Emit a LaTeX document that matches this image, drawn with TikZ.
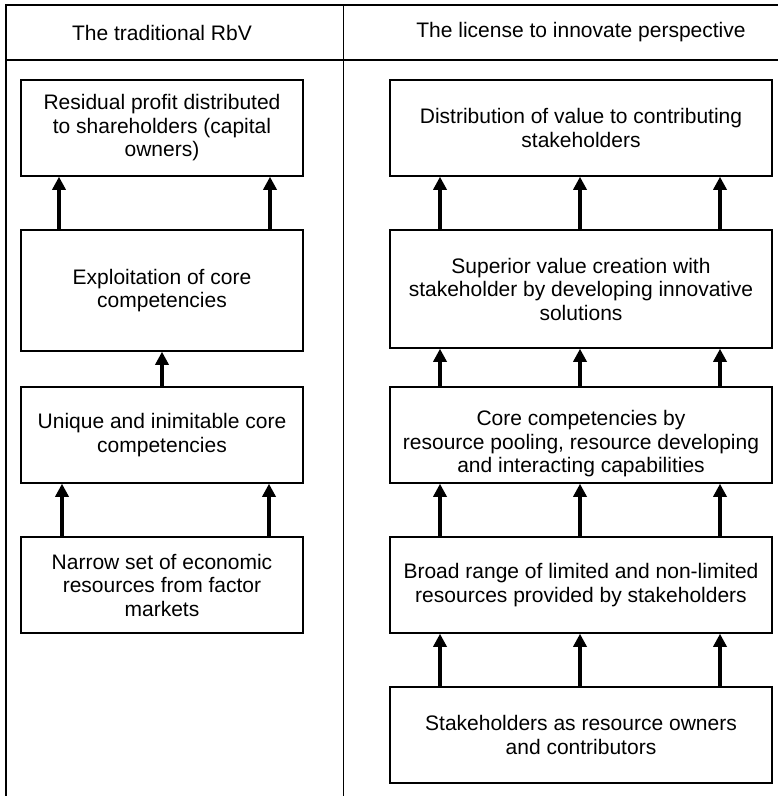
\documentclass[tikz,border=0pt]{standalone}
\usepackage{fontspec}
\setmainfont{Liberation Sans}
\usetikzlibrary{arrows.meta}
\begin{document}
\begin{tikzpicture}[x=1pt,y=-1pt,
  txt/.style={font=\fontsize{21}{23.5}\selectfont, align=center, inner sep=0pt},
  box/.style={txt, draw, line width=1.5pt, rectangle, minimum height=96pt},
  lbox/.style={box, minimum width=282pt},
  rbox/.style={box, minimum width=382pt},
  frame/.style={line width=1.5pt},
  arr/.style={line width=3.2pt, -{Triangle[width=13pt,length=13pt]}}]
\useasboundingbox (0,0) rectangle (778,796);

% table frame
\draw[frame] (6,796) -- (6,5) -- (778,5);
\draw[frame] (6,60) -- (778,60);
\draw[frame] (343.5,5) -- (343.5,796);

% column headings
\node[txt] (hl) at (162,32.5) {The traditional RbV};
\node[txt] (hr) at (581,32.5) {The license to innovate perspective};

% traditional resource-based view
\node[lbox] (L1) at (162,128) {Residual profit distributed\\to shareholders (capital\\owners)};
\node[lbox, minimum height=121pt] (L2) at (162,290.5) {Exploitation of core\\competencies};
\node[lbox] (L3) at (162,435) {Unique and inimitable core\\competencies};
\node[lbox] (L4) at (162,585) {Narrow set of economic\\resources from factor\\markets};

% license to innovate
\node[rbox] (R1) at (581,128) {Distribution of value to contributing\\stakeholders};
\node[rbox, minimum height=118pt] (R2) at (581,289) {Superior value creation with\\stakeholder by developing innovative\\solutions};
\node[rbox] (R3) at (581,435) {};
\node[txt] (R3t) at ([yshift=-9pt]R3.center) {Core competencies by\\resource pooling, resource developing\\and interacting capabilities};
\node[rbox] (R4) at (581,585) {Broad range of limited and non-limited\\resources provided by stakeholders};
\node[rbox] (R5) at (581,735) {Stakeholders as resource owners\\and contributors};

% arrows, left column
\foreach \dx in {-103,108}
  \draw[arr] ([xshift=\dx pt]L2.north) -- ([xshift=\dx pt]L1.south);
\draw[arr] (L3.north) -- (L2.south);
\foreach \dx in {-100,107}
  \draw[arr] ([xshift=\dx pt]L4.north) -- ([xshift=\dx pt]L3.south);

% arrows, right column
\foreach \lo/\hi in {R2/R1,R3/R2,R4/R3,R5/R4}
  \foreach \dx in {-141,-1,139}
    \draw[arr] ([xshift=\dx pt]\lo.north) -- ([xshift=\dx pt]\hi.south);
\end{tikzpicture}
\end{document}
